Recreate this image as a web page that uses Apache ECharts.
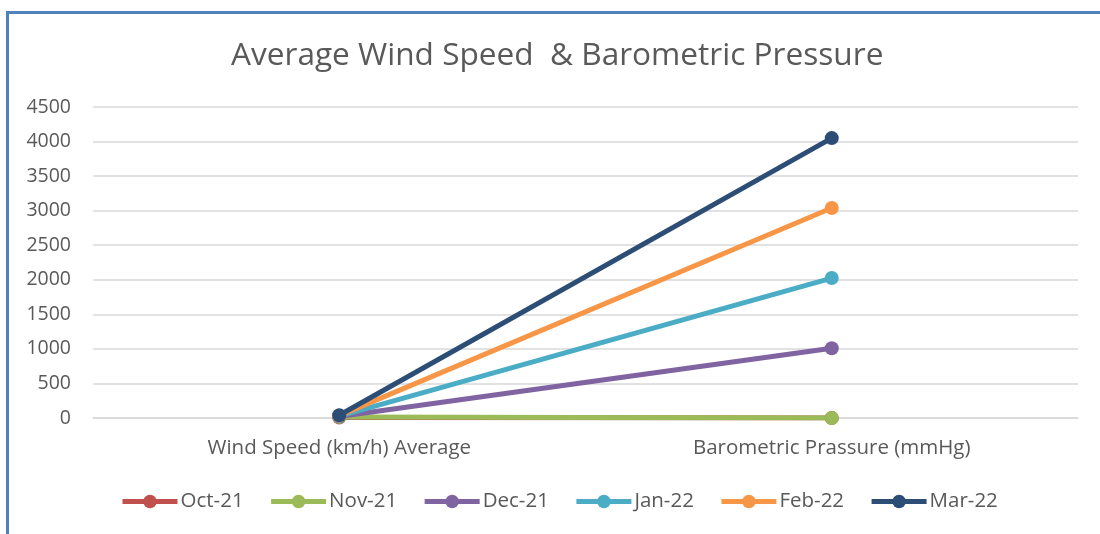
<!DOCTYPE html>
<html><head><meta charset="utf-8">
<script src="https://cdn.jsdelivr.net/npm/echarts@6/dist/echarts.min.js"></script>
<style>
html,body{margin:0;padding:0;background:#fff;}
#wrap{position:absolute;left:6px;top:11px;width:1094px;height:523px;border-top:3px solid #4f81bd;border-left:3px solid #4f81bd;box-sizing:border-box;}
#c{position:absolute;left:0;top:0;width:1100px;height:534px;}
</style></head>
<body>
<div id="wrap"></div>
<div id="c"></div>
<script>
const categories = ['Wind Speed (km/h) Average', 'Barometric Prassure (mmHg)'];
const seriesNames = ['Oct-21', 'Nov-21', 'Dec-21', 'Jan-22', 'Feb-22', 'Mar-22'];
const colors = ['#c0504d', '#9bbb59', '#8064a2', '#4bacc6', '#f79646', '#2c4d75'];
// individual (stacked) values per month
const oct21 = [6, 0];
const nov21 = [7, 0];
const dec21 = [8, 1010];
const jan22 = [7, 1015];
const feb22 = [6, 1013];
const mar22 = [6, 1012];
const yTicks = [0, 500, 1000, 1500, 2000, 2500, 3000, 3500, 4000, 4500];

const values = [oct21, nov21, dec21, jan22, feb22, mar22];
const font = '"Open Sans", "Noto Sans", sans-serif';
const chart = echarts.init(document.getElementById('c'));
chart.setOption({
  backgroundColor: 'transparent',
  animation: false,
  title: {
    text: 'Average Wind Speed  & Barometric Pressure',
    left: 226, top: 35,
    textStyle: {fontFamily: font, fontSize: 31.6, fontWeight: 'normal', color: '#595959'}
  },
  legend: {
    bottom: 17, left: 115,
    itemWidth: 55, itemHeight: 17, itemGap: 25,
    lineStyle: {width: 5},
    textStyle: {fontFamily: font, fontSize: 20.5, color: '#595959', padding: [0,0,0,-2]},
    data: seriesNames
  },
  grid: {left: 93, right: 22, top: 107, bottom: 116},
  xAxis: {
    type: 'category', data: categories, boundaryGap: true,
    axisLine: {lineStyle: {color: '#d9d9d9', width: 1.5}},
    axisTick: {show: false},
    axisLabel: {fontFamily: font, fontSize: 20.5, color: '#595959', margin: 20}
  },
  yAxis: {
    type: 'value', min: yTicks[0], max: yTicks[yTicks.length-1], interval: 500,
    axisLine: {show: false}, axisTick: {show: false},
    splitLine: {lineStyle: {color: '#d9d9d9', width: 1.5}},
    axisLabel: {fontFamily: font, fontSize: 19.5, color: '#595959', margin: 22,
      formatter: v => String(v)}
  },
  series: seriesNames.map((n, i) => ({
    name: n, type: 'line', stack: 'total', data: values[i],
    symbol: 'circle', symbolSize: 14,
    lineStyle: {width: 5, color: colors[i]},
    itemStyle: {color: colors[i]}
  }))
});
</script>
</body></html>
